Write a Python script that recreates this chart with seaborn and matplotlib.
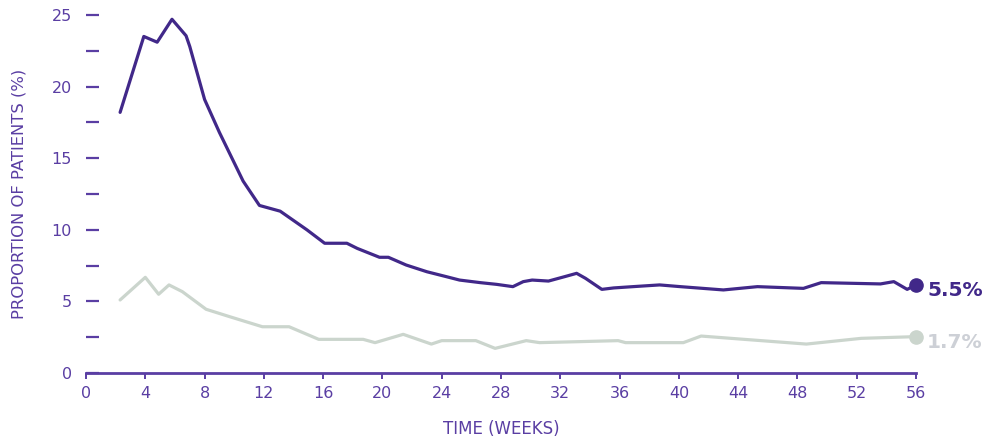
import numpy as np
import pandas as pd
import seaborn as sns
import matplotlib
matplotlib.use('Agg')
import matplotlib.pyplot as plt
from matplotlib.ticker import MultipleLocator

# data
weeks_high = [2.3, 3.9, 4.8, 5.8, 6.75, 7.0, 8.0, 9.0, 10.6, 11.7, 13.1, 14.9, 16.1, 17.6, 18.3,
              19.8, 20.4, 21.6, 23.0, 24.3, 25.2, 26.6, 27.7, 28.8, 29.5, 30.1, 31.2, 32.3, 33.1,
              33.7, 34.8, 35.6, 36.9, 38.7, 40.1, 43.0, 45.3, 48.4, 49.6, 53.6, 54.5, 55.4, 56.0]
prop_high = [18.2, 23.5, 23.1, 24.7, 23.55, 22.8, 19.1, 16.8, 13.4, 11.7, 11.3, 10.0, 9.06, 9.06, 8.7,
             8.08, 8.08, 7.54, 7.07, 6.73, 6.49, 6.31, 6.19, 6.03, 6.38, 6.49, 6.42, 6.73, 6.96,
             6.61, 5.84, 5.94, 6.03, 6.15, 6.03, 5.80, 6.03, 5.91, 6.31, 6.22, 6.38, 5.84, 6.15]

weeks_low = [2.3, 4.0, 4.9, 5.6, 6.5, 8.1, 9.7, 11.9, 13.7, 15.7, 18.7, 19.5, 21.4, 23.3, 24.0,
             26.3, 27.6, 29.7, 30.6, 33.3, 35.9, 36.4, 40.3, 41.5, 44.4, 48.6, 52.3, 56.0]
prop_low = [5.1, 6.68, 5.5, 6.15, 5.68, 4.45, 3.93, 3.23, 3.23, 2.35, 2.35, 2.12, 2.7, 2.02, 2.26,
            2.26, 1.72, 2.26, 2.12, 2.19, 2.26, 2.12, 2.12, 2.58, 2.35, 2.02, 2.42, 2.54]

end_labels = ['5.5%', '1.7%']
x_ticks = list(range(0, 57, 4))
y_ticks = [0, 5, 10, 15, 20, 25]

purple = '#412889'
axis_purple = '#5a3ea3'
grey_line = '#cbd5cd'
grey_text = '#cdd0d6'

df = pd.concat([
    pd.DataFrame({'week': weeks_high, 'prop': prop_high, 'group': 'high'}),
    pd.DataFrame({'week': weeks_low, 'prop': prop_low, 'group': 'low'}),
])

sns.set_style('white')
plt.rcParams['font.family'] = ['DejaVu Sans']

fig = plt.figure(figsize=(9.83, 4.38), dpi=100)
ax = fig.add_axes([0.0875, 0.1484, 0.8444, 0.8174])

sns.lineplot(data=df, x='week', y='prop', hue='group', palette={'high': purple, 'low': grey_line},
             hue_order=['low', 'high'], linewidth=2.3, legend=False, ax=ax, sort=False)

# end markers + labels
ax.plot([weeks_high[-1]], [prop_high[-1]], 'o', color=purple, markersize=9.5, clip_on=False, zorder=5)
ax.plot([weeks_low[-1]], [prop_low[-1]], 'o', color=grey_line, markersize=9.5, clip_on=False, zorder=5)
ax.annotate(end_labels[0], (weeks_high[-1], prop_high[-1]), xytext=(8, -4), textcoords='offset points',
            color=purple, fontsize=14.5, fontweight='bold', va='center', ha='left', annotation_clip=False)
ax.annotate(end_labels[1], (weeks_low[-1], prop_low[-1]), xytext=(8, -4), textcoords='offset points',
            color=grey_text, fontsize=14.5, fontweight='bold', va='center', ha='left', annotation_clip=False)

ax.set_xlim(0, 56)
ax.set_ylim(0, 25)
ax.set_xticks(x_ticks)
ax.set_yticks(y_ticks)
ax.yaxis.set_minor_locator(MultipleLocator(2.5))

for s in ['top', 'right', 'left']:
    ax.spines[s].set_visible(False)
ax.spines['bottom'].set_color(axis_purple)
ax.spines['bottom'].set_linewidth(2)

ax.tick_params(axis='y', which='both', direction='in', length=9.4, width=1.6, color=axis_purple,
               labelcolor=axis_purple, labelsize=11.5, pad=10, left=True)
ax.tick_params(axis='x', direction='out', length=4, width=1.4, color=axis_purple,
               labelcolor=axis_purple, labelsize=11.5, pad=5, bottom=True)

ax.set_xlabel('TIME (WEEKS)', color=axis_purple, fontsize=12, labelpad=14)
ax.set_ylabel('PROPORTION OF PATIENTS (%)', color=axis_purple, fontsize=11.8, labelpad=18)
for line in ax.get_lines():
    line.set_clip_on(False)

fig.savefig('out.png', dpi=100)
